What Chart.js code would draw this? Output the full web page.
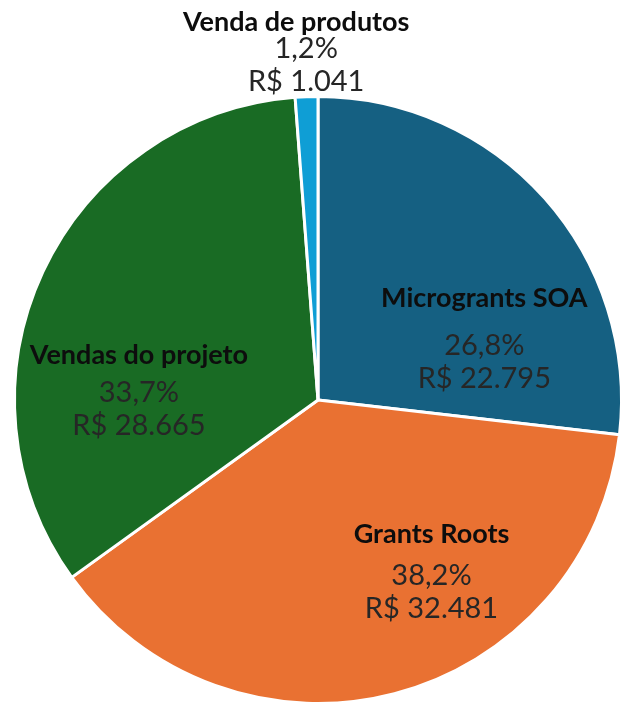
<!DOCTYPE html>
<html>
<head>
<meta charset="utf-8">
<script src="https://cdn.jsdelivr.net/npm/chart.js@4"></script>
<style>
  html, body { margin: 0; padding: 0; overflow: hidden; background: #fff; }
  canvas { display: block; }
</style>
</head>
<body>
<canvas id="pizza" width="636" height="800"></canvas>
<script>
// Dados do gráfico
const categorias = ['Microgrants SOA', 'Grants Roots', 'Vendas do projeto', 'Venda de produtos'];
const percentuais = [26.8, 38.2, 33.7, 1.2];
const valores = ['R$ 22.795', 'R$ 32.481', 'R$ 28.665', 'R$ 1.041'];
const cores = ['#156082', '#E97132', '#196B24', '#0F9ED5'];

// posição dos rótulos (fração do raio, relativo ao centro)
const posRotulos = [
  { fx: 0.548, fy: -0.180, titulo: -47, tdx: 0 },
  { fx: 0.374, fy: 0.580, titulo: -42, tdx: 0 },
  { fx: -0.590, fy: -0.023, titulo: -38, tdx: 0 },
  { fx: -0.039, fy: -1.157, titulo: -27, tdx: -10 }
];

const rotulosPlugin = {
  id: 'rotulos',
  afterDatasetsDraw(chart) {
    const ctx = chart.ctx;
    const meta = chart.getDatasetMeta(0);
    meta.data.forEach((arc, i) => {
      const p = posRotulos[i];
      const x = arc.x + p.fx * arc.outerRadius;
      const y = arc.y + p.fy * arc.outerRadius;
      ctx.save();
      ctx.textAlign = 'center';
      ctx.textBaseline = 'middle';
      ctx.fillStyle = '#0d0d0d';
      ctx.font = 'bold 27px Lato';
      ctx.fillText(categorias[i], x + p.tdx, y + p.titulo);
      ctx.fillStyle = '#262626';
      ctx.font = '29px Lato';
      ctx.fillText(percentuais[i].toFixed(1).replace('.', ',') + '%', x, y);
      ctx.fillText(valores[i], x, y + 33);
      ctx.restore();
    });
  }
};

new Chart(document.getElementById('pizza'), {
  type: 'pie',
  data: {
    labels: categorias,
    datasets: [{
      data: percentuais,
      backgroundColor: cores,
      borderColor: '#ffffff',
      borderWidth: 3
    }]
  },
  options: {
    responsive: false,
    animation: false,
    layout: { padding: { left: 13, right: 13, top: 95, bottom: 95 } },
    plugins: {
      legend: { display: false },
      tooltip: { enabled: false }
    }
  },
  plugins: [rotulosPlugin]
});
</script>
</body>
</html>
